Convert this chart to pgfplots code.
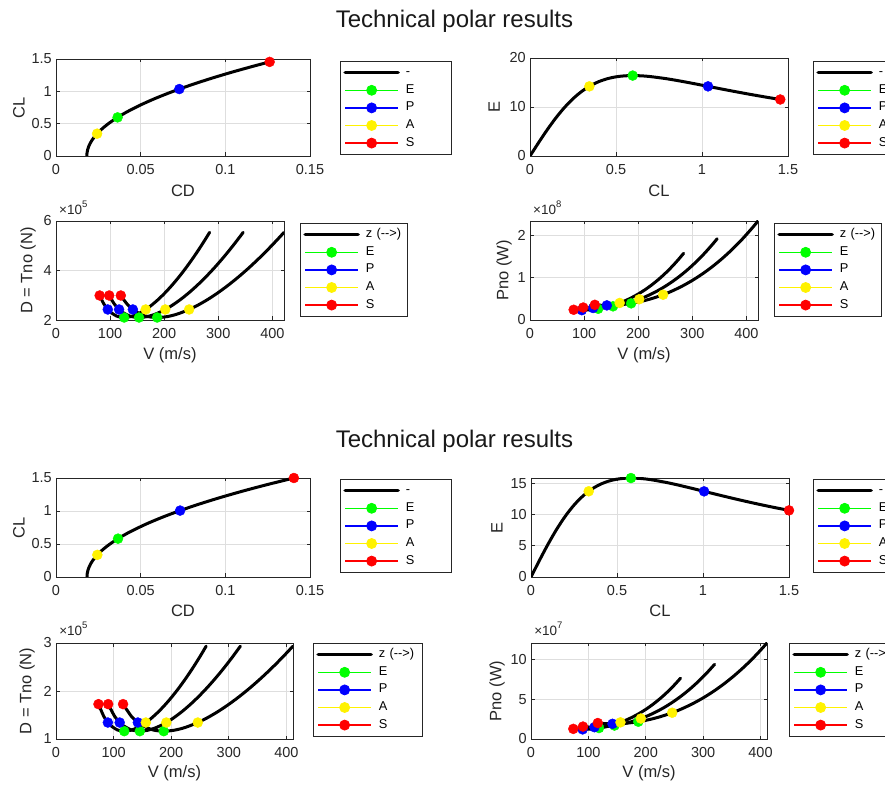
\documentclass[border=0pt]{standalone}
\usepackage{pgfplots}
\usepackage{pgfplotstable}
\pgfplotsset{compat=1.18}
\usepackage{fontspec}
\setmainfont{Liberation Sans}
\newcommand\tickfont{\fontsize{14.5}{16}\selectfont}
\newcommand\labfont{\fontsize{16.5}{18}\selectfont}
\newcommand\legfont{\fontsize{12.8}{15}\selectfont}
\newcommand\titfont{\fontsize{24}{28}\selectfont}
\newcommand\expfont{\fontsize{13.5}{15}\selectfont}
\newcommand\expo[1]{×10\raisebox{0.5em}{\fontsize{9.5}{10}\selectfont #1}}
\newcommand\legmk[1]{\draw[#1,line width=1.3pt] (0pt,0pt) -- (53pt,0pt); \fill[#1] (26.5pt,0pt) circle (5pt);}
\definecolor{axgray}{gray}{0.15}
\definecolor{gridgray}{gray}{0.87}
\pgfplotsset{
  base/.style={
    scale only axis, clip mode=individual, scaled ticks=false,
    axis line style={axgray, line width=0.8pt},
    grid=major, major grid style={gridgray, line width=0.8pt},
    major tick style={axgray, line width=0.8pt}, major tick length=3.5pt, tick align=inside,
    ticklabel style={font=\tickfont, text=axgray, inner sep=0pt},
    xticklabel style={yshift=-8.5pt},
    yticklabel style={xshift=-4pt},
    xlabel style={font=\labfont, text=axgray, inner sep=0pt, anchor=north},
    ylabel style={font=\labfont, text=axgray, inner sep=0pt, anchor=south},
    legend cell align=left,
    legend style={at={(1,1)}, anchor=north west, draw=axgray, line width=0.8pt, font=\legfont, text=black, fill=white,
      inner xsep=3pt, inner ysep=2.5pt, row sep=0pt, column sep=4pt,
      nodes={inner xsep=2pt, inner ysep=2.3pt, text height=9.5pt, text depth=3.5pt}},
  },
  crv/.style={black, line width=3pt, line cap=round, line join=round, smooth, no marks},
  crvleg/.style={crv, legend image code/.code={\draw[black,line width=3.5pt] (0pt,0pt) -- (53pt,0pt);}},
  mkE/.style={only marks, mark=*, mark size=5pt, color=green, legend image code/.code={\legmk{green}}},
  mkP/.style={only marks, mark=*, mark size=5pt, color=blue, legend image code/.code={\legmk{blue}}},
  mkA/.style={only marks, mark=*, mark size=5pt, color=yellow, legend image code/.code={\legmk{yellow}}},
  mkS/.style={only marks, mark=*, mark size=5pt, color=red, legend image code/.code={\legmk{red}}},
}
% aerodynamic polar, first case: CL, CD, E = CL/CD
\pgfplotstableread{
CL CD E
0 0.01820 0
0.05 0.01833 2.728
0.1 0.01871 5.345
0.15 0.01935 7.752
0.2 0.02024 9.881
0.25 0.02139 11.688
0.3 0.02279 13.164
0.35 0.02445 14.315
0.4 0.02636 15.175
0.45 0.02853 15.773
0.5 0.03095 16.155
0.55 0.03363 16.355
0.6 0.03656 16.411
0.65 0.03975 16.352
0.7 0.04319 16.207
0.8 0.05084 15.736
0.9 0.05951 15.124
1.0 0.06920 14.451
1.1 0.07991 13.765
1.2 0.09164 13.095
1.3 0.10439 12.453
1.4 0.11816 11.848
1.455 0.12617 11.532
}\polarTop
% second case
\pgfplotstableread{
CL CD E
0 0.01830 0
0.05 0.01844 2.712
0.1 0.01884 5.308
0.15 0.01952 7.684
0.2 0.02047 9.770
0.25 0.02169 11.526
0.3 0.02319 12.937
0.35 0.02495 14.028
0.4 0.02699 14.820
0.45 0.02930 15.358
0.5 0.03188 15.684
0.55 0.03473 15.837
0.6 0.03785 15.852
0.65 0.04124 15.761
0.7 0.04491 15.587
0.8 0.05305 15.080
0.9 0.06228 14.451
1.0 0.07260 13.774
1.1 0.08400 13.095
1.2 0.09649 12.436
1.3 0.11007 11.811
1.4 0.12473 11.224
1.5 0.14048 10.678
}\polarBot
% V (m/s), D (x1e5 N), P (x1e8 W) for three altitudes
\pgfplotstableread{
V1 D1 P1 V2 D2 P2 V3 D3 P3
80.72 2.9896 0.2413 98.33 2.9896 0.2940 119.8 2.9896 0.3582
88.2 2.6573 0.2344 107.45 2.6573 0.2855 130.9 2.6573 0.3478
95.73 2.4249 0.2321 116.63 2.4249 0.2828 142.08 2.4249 0.3445
100.8 2.3126 0.2331 122.8 2.3126 0.2840 149.6 2.3126 0.3460
113.4 2.1468 0.2434 138.15 2.1468 0.2966 168.3 2.1468 0.3613
126 2.1 0.2646 153.5 2.1 0.3224 187 2.1 0.3927
138.6 2.1382 0.2964 168.85 2.1382 0.3610 205.7 2.1382 0.4398
151.2 2.2411 0.3389 184.2 2.2411 0.4128 224.4 2.2411 0.5029
165.8 2.4247 0.4020 202.0 2.4247 0.4898 246.1 2.4247 0.5967
176.4 2.5937 0.4575 214.9 2.5937 0.5574 261.8 2.5937 0.6790
189 2.8291 0.5347 230.25 2.8291 0.6514 280.5 2.8291 0.7936
201.6 3.0981 0.6246 245.6 3.0981 0.7609 299.2 3.0981 0.9270
214.2 3.3978 0.7278 260.95 3.3978 0.8867 317.9 3.3978 1.0802
226.8 3.7260 0.8451 276.3 3.7260 1.0295 336.6 3.7260 1.2542
239.4 4.0814 0.9771 291.65 4.0814 1.1903 355.3 4.0814 1.4501
252 4.4625 1.1246 307 4.4625 1.3700 374 4.4625 1.6690
264.6 4.8686 1.2882 322.35 4.8686 1.5694 392.7 4.8686 1.9119
277.2 5.2989 1.4689 337.7 5.2989 1.7894 411.4 5.2989 2.1800
284.0 5.5413 1.5737 346.0 5.5413 1.9173 421.5 5.5413 2.3357
}\dvTop
% V (m/s), D (x1e5 N), P (x1e7 W)
\pgfplotstableread{
V1 D1 P1 V2 D2 P2 V3 D3 P3
73.75 1.7264 1.2732 90.56 1.7264 1.5634 116.4 1.7264 2.0095
82.95 1.4717 1.2208 101.85 1.4717 1.4989 130.9 1.4717 1.9265
90.04 1.3429 1.2092 110.55 1.3429 1.4846 142.08 1.3429 1.9080
94.8 1.2808 1.2142 116.4 1.2808 1.4909 149.6 1.2808 1.9161
106.65 1.1889 1.2680 130.95 1.1889 1.5569 168.3 1.1889 2.0009
118.5 1.163 1.3782 145.5 1.163 1.6922 187 1.163 2.1748
130.35 1.1842 1.5436 160.05 1.1842 1.8953 205.7 1.1842 2.4359
142.2 1.2412 1.7650 174.6 1.2412 2.1671 224.4 1.2412 2.7853
155.95 1.3428 2.0941 191.5 1.3428 2.5715 246.1 1.3428 3.3046
165.9 1.4364 2.3830 203.7 1.4364 2.9259 261.8 1.4364 3.7605
177.75 1.5668 2.7850 218.25 1.5668 3.4195 280.5 1.5668 4.3949
189.6 1.7158 3.2532 232.8 1.7158 3.9944 299.2 1.7158 5.1337
201.45 1.8817 3.7907 247.35 1.8817 4.6544 317.9 1.8817 5.9819
213.3 2.0635 4.4014 261.9 2.0635 5.4043 336.6 2.0635 6.9457
225.15 2.2603 5.0891 276.45 2.2603 6.2486 355.3 2.2603 8.0308
237 2.4714 5.8572 291 2.4714 7.1918 374 2.4714 9.2430
248.85 2.6963 6.7097 305.55 2.6963 8.2385 392.7 2.6963 10.5884
260.7 2.9346 7.6505 320.1 2.9346 9.3937 411.4 2.9346 12.0730
}\dvBot
\begin{document}
\begin{tikzpicture}
\useasboundingbox (0,0) rectangle (885pt,784pt);
\clip (0,0) rectangle (885pt,784pt);
\fill[white] (0,0) rectangle (885pt,784pt);
\node[font=\titfont, text=black!90, anchor=base, inner sep=0pt] at (454.5pt,756pt) {Technical polar results};
\node[font=\titfont, text=black!90, anchor=base, inner sep=0pt] at (454.5pt,336pt) {Technical polar results};

% ---------- 1: CL vs CD (top)
\begin{axis}[base, at={(56pt,628pt)}, anchor=south west, width=254pt, height=97pt,
  xmin=0, xmax=0.15, ymin=0, ymax=1.5,
  xtick={0,0.05,0.1,0.15}, xticklabels={0,0.05,0.1,0.15},
  ytick={0,0.5,1,1.5}, yticklabels={0,0.5,1,1.5},
  xlabel={CD}, ylabel={CL},
  xlabel style={at={(axis description cs:0.5,0)}, yshift=-29pt},
  ylabel style={at={(axis description cs:-0.122,0.5)}},
  legend style={xshift=30pt, yshift=-2pt, nodes={text width=40pt}}]
\addplot[crvleg] table[x=CD,y=CL] {\polarTop}; \addlegendentry{-}
\addplot[mkE] coordinates {(0.03638,0.597)}; \addlegendentry{E}
\addplot[mkP] coordinates {(0.07283,1.035)}; \addlegendentry{P}
\addplot[mkA] coordinates {(0.02427,0.345)}; \addlegendentry{A}
\addplot[mkS] coordinates {(0.12617,1.455)}; \addlegendentry{S}
\end{axis}

% ---------- 2: E vs CL (top)
\begin{axis}[base, at={(530pt,628pt)}, anchor=south west, width=258pt, height=98pt,
  xmin=0, xmax=1.5, ymin=0, ymax=20,
  xtick={0,0.5,1,1.5}, xticklabels={0,0.5,1,1.5},
  ytick={0,10,20}, yticklabels={0,10,20},
  xlabel={CL}, ylabel={E},
  xlabel style={at={(axis description cs:0.5,0)}, yshift=-29pt},
  ylabel style={at={(axis description cs:-0.116,0.5)}},
  legend style={xshift=25pt, yshift=-3pt, nodes={text width=40pt}}]
\addplot[crvleg] table[x=CL,y=E] {\polarTop}; \addlegendentry{-}
\addplot[mkE] coordinates {(0.597,16.41)}; \addlegendentry{E}
\addplot[mkP] coordinates {(1.035,14.21)}; \addlegendentry{P}
\addplot[mkA] coordinates {(0.345,14.21)}; \addlegendentry{A}
\addplot[mkS] coordinates {(1.455,11.53)}; \addlegendentry{S}
\end{axis}

% ---------- 3: D vs V (top)
\begin{axis}[base, at={(56pt,464pt)}, anchor=south west, width=228pt, height=99pt,
  xmin=0, xmax=421.5, ymin=2, ymax=6,
  xtick={0,100,200,300,400}, xticklabels={0,100,200,300,400},
  ytick={2,4,6}, yticklabels={2,4,6},
  xlabel={V (m/s)}, ylabel={D = Tno (N)},
  xlabel style={at={(axis description cs:0.5,0)}, yshift=-27pt},
  ylabel style={at={(axis description cs:-0.088,0.5)}},
  legend style={xshift=16pt, yshift=-2pt, nodes={text width=36pt}}]
\addplot[crvleg] table[x=V1,y=D1] {\dvTop}; \addlegendentry{z (-{}->)}
\addplot[crv, forget plot] table[x=V2,y=D2] {\dvTop};
\addplot[crv, forget plot] table[x=V3,y=D3] {\dvTop};
\addplot[mkE] coordinates {(126,2.1) (153.5,2.1) (187,2.1)}; \addlegendentry{E}
\addplot[mkP] coordinates {(95.73,2.4249) (116.63,2.4249) (142.08,2.4249)}; \addlegendentry{P}
\addplot[mkA] coordinates {(165.8,2.4247) (202.0,2.4247) (246.1,2.4247)}; \addlegendentry{A}
\addplot[mkS] coordinates {(80.72,2.9896) (98.33,2.9896) (119.8,2.9896)}; \addlegendentry{S}
\node[anchor=base west, font=\expfont, text=axgray, inner sep=0pt] at (axis description cs:0.013,1.07) {\expo{5}};
\end{axis}

% ---------- 4: Pno vs V (top)
\begin{axis}[base, at={(530pt,464pt)}, anchor=south west, width=228pt, height=99pt,
  xmin=0, xmax=421.5, ymin=0, ymax=2.3357,
  xtick={0,100,200,300,400}, xticklabels={0,100,200,300,400},
  ytick={0,1,2}, yticklabels={0,1,2},
  xlabel={V (m/s)}, ylabel={Pno (W)},
  xlabel style={at={(axis description cs:0.5,0)}, yshift=-27pt},
  ylabel style={at={(axis description cs:-0.079,0.5)}},
  legend style={xshift=16pt, yshift=-2pt, nodes={text width=36pt}}]
\addplot[crvleg] table[x=V1,y=P1] {\dvTop}; \addlegendentry{z (-{}->)}
\addplot[crv, forget plot] table[x=V2,y=P2] {\dvTop};
\addplot[crv, forget plot] table[x=V3,y=P3] {\dvTop};
\addplot[mkE] coordinates {(126,0.2646) (153.5,0.3224) (187,0.3927)}; \addlegendentry{E}
\addplot[mkP] coordinates {(95.73,0.2321) (116.63,0.2828) (142.08,0.3445)}; \addlegendentry{P}
\addplot[mkA] coordinates {(165.8,0.4020) (202.0,0.4898) (246.1,0.5967)}; \addlegendentry{A}
\addplot[mkS] coordinates {(80.72,0.2413) (98.33,0.2940) (119.8,0.3582)}; \addlegendentry{S}
\node[anchor=base west, font=\expfont, text=axgray, inner sep=0pt] at (axis description cs:0.013,1.07) {\expo{8}};
\end{axis}

% ---------- 5: CL vs CD (bottom)
\begin{axis}[base, at={(56pt,207pt)}, anchor=south west, width=254pt, height=99pt,
  xmin=0, xmax=0.15, ymin=0, ymax=1.5,
  xtick={0,0.05,0.1,0.15}, xticklabels={0,0.05,0.1,0.15},
  ytick={0,0.5,1,1.5}, yticklabels={0,0.5,1,1.5},
  xlabel={CD}, ylabel={CL},
  xlabel style={at={(axis description cs:0.5,0)}, yshift=-28pt},
  ylabel style={at={(axis description cs:-0.122,0.5)}},
  legend style={xshift=30pt, yshift=-1pt, nodes={text width=40pt}}]
\addplot[crvleg] table[x=CD,y=CL] {\polarBot}; \addlegendentry{-}
\addplot[mkE] coordinates {(0.03663,0.581)}; \addlegendentry{E}
\addplot[mkP] coordinates {(0.07329,1.0063)}; \addlegendentry{P}
\addplot[mkA] coordinates {(0.02441,0.3355)}; \addlegendentry{A}
\addplot[mkS] coordinates {(0.14048,1.5)}; \addlegendentry{S}
\end{axis}

% ---------- 6: E vs CL (bottom)
\begin{axis}[base, at={(531pt,207pt)}, anchor=south west, width=258pt, height=99pt,
  xmin=0, xmax=1.5, ymin=0, ymax=15.87,
  xtick={0,0.5,1,1.5}, xticklabels={0,0.5,1,1.5},
  ytick={0,5,10,15}, yticklabels={0,5,10,15},
  xlabel={CL}, ylabel={E},
  xlabel style={at={(axis description cs:0.5,0)}, yshift=-28pt},
  ylabel style={at={(axis description cs:-0.109,0.5)}},
  legend style={xshift=24pt, yshift=-1pt, nodes={text width=40pt}}]
\addplot[crvleg] table[x=CL,y=E] {\polarBot}; \addlegendentry{-}
\addplot[mkE] coordinates {(0.581,15.86)}; \addlegendentry{E}
\addplot[mkP] coordinates {(1.0063,13.73)}; \addlegendentry{P}
\addplot[mkA] coordinates {(0.3355,13.74)}; \addlegendentry{A}
\addplot[mkS] coordinates {(1.5,10.68)}; \addlegendentry{S}
\end{axis}

% ---------- 7: D vs V (bottom)
\begin{axis}[base, at={(56pt,45pt)}, anchor=south west, width=237pt, height=96pt,
  xmin=0, xmax=411.4, ymin=1, ymax=3,
  xtick={0,100,200,300,400}, xticklabels={0,100,200,300,400},
  ytick={1,2,3}, yticklabels={1,2,3},
  xlabel={V (m/s)}, ylabel={D = Tno (N)},
  xlabel style={at={(axis description cs:0.5,0)}, yshift=-26pt},
  ylabel style={at={(axis description cs:-0.089,0.5)}},
  legend style={xshift=20pt, yshift=0pt, nodes={text width=38pt}}]
\addplot[crvleg] table[x=V1,y=D1] {\dvBot}; \addlegendentry{z (-{}->)}
\addplot[crv, forget plot] table[x=V2,y=D2] {\dvBot};
\addplot[crv, forget plot] table[x=V3,y=D3] {\dvBot};
\addplot[mkE] coordinates {(118.5,1.163) (145.5,1.163) (187,1.163)}; \addlegendentry{E}
\addplot[mkP] coordinates {(90.04,1.3429) (110.55,1.3429) (142.08,1.3429)}; \addlegendentry{P}
\addplot[mkA] coordinates {(155.95,1.3428) (191.5,1.3428) (246.1,1.3428)}; \addlegendentry{A}
\addplot[mkS] coordinates {(73.75,1.7264) (90.56,1.7264) (116.4,1.7264)}; \addlegendentry{S}
\node[anchor=base west, font=\expfont, text=axgray, inner sep=0pt] at (axis description cs:0.013,1.083) {\expo{5}};
\end{axis}

% ---------- 8: Pno vs V (bottom)
\begin{axis}[base, at={(531pt,45pt)}, anchor=south west, width=236pt, height=96pt,
  xmin=0, xmax=411.4, ymin=0, ymax=12.073,
  xtick={0,100,200,300,400}, xticklabels={0,100,200,300,400},
  ytick={0,5,10}, yticklabels={0,5,10},
  xlabel={V (m/s)}, ylabel={Pno (W)},
  xlabel style={at={(axis description cs:0.5,0)}, yshift=-26pt},
  ylabel style={at={(axis description cs:-0.110,0.5)}},
  legend style={xshift=22pt, yshift=0pt, nodes={text width=38pt}}]
\addplot[crvleg] table[x=V1,y=P1] {\dvBot}; \addlegendentry{z (-{}->)}
\addplot[crv, forget plot] table[x=V2,y=P2] {\dvBot};
\addplot[crv, forget plot] table[x=V3,y=P3] {\dvBot};
\addplot[mkE] coordinates {(118.5,1.3782) (145.5,1.6922) (187,2.1748)}; \addlegendentry{E}
\addplot[mkP] coordinates {(90.04,1.2092) (110.55,1.4846) (142.08,1.9080)}; \addlegendentry{P}
\addplot[mkA] coordinates {(155.95,2.0941) (191.5,2.5715) (246.1,3.3046)}; \addlegendentry{A}
\addplot[mkS] coordinates {(73.75,1.2732) (90.56,1.5634) (116.4,2.0095)}; \addlegendentry{S}
\node[anchor=base west, font=\expfont, text=axgray, inner sep=0pt] at (axis description cs:0.013,1.083) {\expo{7}};
\end{axis}
\end{tikzpicture}
\end{document}
